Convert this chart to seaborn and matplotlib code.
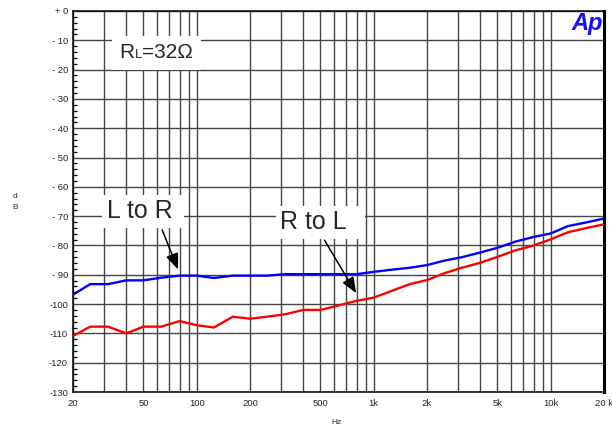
import numpy as np
import matplotlib
matplotlib.use("Agg")
import matplotlib.pyplot as plt
from matplotlib.ticker import FixedLocator, NullFormatter
from matplotlib.offsetbox import TextArea, HPacker, AnnotationBbox
import pandas as pd
import seaborn as sns

sns.set_style("white")
plt.rcParams['font.family'] = ['Liberation Sans', 'DejaVu Sans']

# 1/3-octave sweep frequencies (Hz)
freqs = [20, 25, 31.5, 40, 50, 63, 80, 100, 125, 160, 200, 250, 315, 400, 500,
         630, 800, 1000, 1250, 1600, 2000, 2500, 3150, 4000, 5000, 6300, 8000,
         10000, 12500, 16000, 20000]
# crosstalk, dB
l_to_r = [-96.8, -93.2, -93.2, -91.9, -91.9, -91.0, -90.3, -90.3, -91.1, -90.3,
          -90.3, -90.3, -89.8, -89.8, -89.8, -89.8, -89.8, -89.0, -88.3, -87.6,
          -86.7, -85.2, -84.0, -82.4, -80.8, -78.7, -77.1, -75.9, -73.4, -72.1,
          -70.8]
r_to_l = [-110.9, -107.7, -107.7, -110.0, -107.7, -107.7, -105.8, -107.2, -108.0,
          -104.3, -105.0, -104.3, -103.5, -102.0, -102.0, -100.5, -98.9, -97.8,
          -95.6, -93.2, -91.8, -89.5, -87.6, -85.9, -83.9, -81.7, -80.0, -77.9,
          -75.5, -74.0, -72.8]

x_ticks = [20, 50, 100, 200, 500, 1000, 2000, 5000, 10000, 20000]
x_ticklabels = ["20", "50", "100", "200", "500", "1k", "2k", "5k", "10k", "20 k"]
x_grid = [m * 10 ** e for e in range(1, 5) for m in range(1, 10)
          if 20 <= m * 10 ** e <= 20000]
y_ticks = list(range(0, -131, -10))
y_ticklabels = ["+ 0", "- 10", "- 20", "- 30", "- 40", "- 50", "- 60", "- 70",
                "- 80", "- 90", "-100", "-110", "-120", "-130"]

df = pd.concat([
    pd.DataFrame({"freq": freqs, "dB": l_to_r, "path": "L to R"}),
    pd.DataFrame({"freq": freqs, "dB": r_to_l, "path": "R to L"}),
])

W, H = 612, 425
fig = plt.figure(figsize=(W / 100, H / 100), dpi=100)
ax = fig.add_axes([73 / W, 1 - 392 / H, 531 / W, 381 / H])

grid_kw = dict(color="#454545", linewidth=1.0)
ax.set_xscale("log")
ax.set_xlim(20, 20000)
ax.set_ylim(-130, 0)

sns.lineplot(data=df, x="freq", y="dB", hue="path",
             palette={"L to R": "#0000ff", "R to L": "#ff0000"},
             linewidth=1.7, legend=False, ax=ax, zorder=3)

ax.xaxis.set_major_locator(FixedLocator(x_ticks))
ax.set_xticklabels(x_ticklabels)
ax.xaxis.set_minor_locator(FixedLocator(x_grid))
ax.xaxis.set_minor_formatter(NullFormatter())
ax.set_yticks(y_ticks)
ax.set_yticklabels(y_ticklabels)
ax.yaxis.set_minor_locator(FixedLocator(list(range(0, -131, -2))))

ax.grid(which="minor", axis="x", **grid_kw)
ax.grid(which="major", axis="x", **grid_kw)
ax.grid(which="major", axis="y", **grid_kw)
ax.set_axisbelow(True)

ax.tick_params(axis="x", which="both", length=0, pad=5, labelsize=6.8)
ax.tick_params(axis="y", which="major", direction="in", length=0, pad=3.6,
               labelsize=6.8)
ax.tick_params(axis="y", which="minor", direction="in", length=3,
               width=0.9, color="black", left=True)
ax.set_xlabel("")
ax.set_ylabel("")

for side in ["top", "left", "bottom"]:
    ax.spines[side].set_color("black")
    ax.spines[side].set_linewidth(1.1)
ax.spines["right"].set_color("black")
ax.spines["right"].set_linewidth(2.2)

# R_L = 32 Ohm box
parts = [TextArea("R", textprops=dict(size=15)),
         TextArea("L", textprops=dict(size=9.5)),
         TextArea("=32Ω", textprops=dict(size=15))]
rl = HPacker(children=parts, align="baseline", pad=0, sep=0)
ab = AnnotationBbox(rl, (59.2, -14.3), xycoords="data", frameon=True,
                    pad=0.55, fontsize=10, box_alignment=(0.5, 0.5),
                    bboxprops=dict(facecolor="white", edgecolor="none"),
                    zorder=4)
ax.add_artist(ab)

box = dict(boxstyle="square,pad=0.18", facecolor="white", edgecolor="none")
ax.text(31.0, -70.75, "L to R ", fontsize=18, ha="left", va="baseline",
        bbox=box, zorder=4)
ax.text(297, -74.4, "R to L  ", fontsize=18, ha="left", va="baseline",
        bbox=box, zorder=4)

arrow = dict(arrowstyle="-|>,head_length=0.6,head_width=0.24", color="black",
             lw=1.1, mutation_scale=16, shrinkA=0, shrinkB=0)
ax.annotate("", xy=(78.5, -88.2), xytext=(63.8, -74.7), arrowprops=arrow,
            zorder=5)
ax.annotate("", xy=(796, -96.3), xytext=(527, -78.2), arrowprops=arrow,
            zorder=5)

ax.text(0.997, 0.997, "Ap", transform=ax.transAxes, ha="right", va="top",
        fontsize=17, fontweight="heavy", fontstyle="italic", color="#1010ff",
        zorder=6)

fig.text(15 / W, 1 - 202 / H, "d\nB", ha="center", va="center", fontsize=6,
         linespacing=1.7)
fig.text(336 / W, 1 - 419 / H, "Hz", ha="center", va="top", fontsize=6)

fig.savefig("out.png", dpi=100)
